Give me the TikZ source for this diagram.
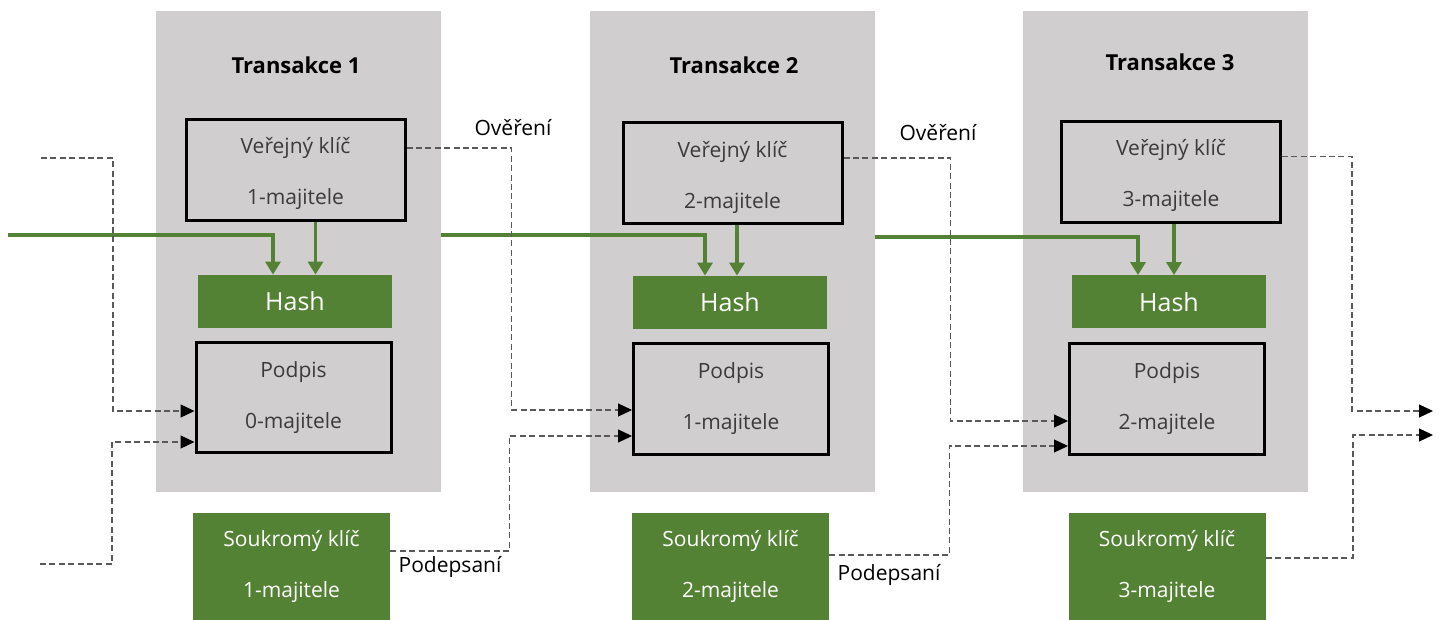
\documentclass[tikz,border=0pt]{standalone}
\usepackage{fontspec}
\setmainfont{Open Sans}
\usetikzlibrary{arrows.meta}
\definecolor{panelgray}{HTML}{D0CECE}
\definecolor{keygreen}{HTML}{548235}
\definecolor{dashgray}{HTML}{595959}
\definecolor{textgray}{HTML}{3B3B3B}
\newcommand{\keystrut}{\rule{0pt}{12pt}}

\begin{document}
\begin{tikzpicture}[x=0.5pt, y=-0.5pt,
    panelnode/.style={rectangle, fill=panelgray, minimum width=142.5pt, minimum height=240.5pt, inner sep=0pt},
    titlenode/.style={font=\fontsize{11}{13}\selectfont\bfseries},
    signode/.style={rectangle, draw=black, line width=1.5pt, minimum width=97.5pt, minimum height=55pt, align=center, text=textgray, font=\fontsize{10.5}{25.5}\selectfont, inner sep=0pt},
    keynode/.style={signode, minimum width=109.5pt, minimum height=50.5pt},
    hashnode/.style={rectangle, fill=keygreen, minimum width=97pt, minimum height=26.5pt, text=white, font=\fontsize{12.5}{14}\selectfont},
    privnode/.style={rectangle, fill=keygreen, minimum width=98.5pt, minimum height=53.5pt, align=center, text=white, font=\fontsize{10.5}{25.5}\selectfont},
    dashline/.style={dashgray, line width=0.6pt, dash pattern=on 3pt off 1.7pt, -{Triangle[length=7pt, width=6.5pt, color=black]}},
    greenline/.style={keygreen, line width=1.6pt, -{Triangle[length=6.5pt, width=7.5pt]}},
    labelnode/.style={font=\fontsize{10.5}{12}\selectfont}
    ]
    \useasboundingbox (0,0) rectangle (1441,620);

    \node [panelnode] (p1) at (298.5,251.5) {};
    \node [panelnode] (p2) at (732,251.5) {};
    \node [panelnode] (p3) at (1165,251.5) {};

    \node [titlenode] (t1) at (296,65) {Transakce 1};
    \node [titlenode] (t2) at (734,65) {Transakce 2};
    \node [titlenode] (t3) at (1170,62) {Transakce 3};

    \node [keynode] (k1) at (295.5,170) {\keystrut Veřejný klíč\\1-majitele};
    \node [keynode] (k2) at (732.5,173.5) {\keystrut Veřejný klíč\\2-majitele};
    \node [keynode] (k3) at (1171,172) {\keystrut Veřejný klíč\\3-majitele};

    \node [hashnode] (h1) at (295,301.5) {Hash};
    \node [hashnode] (h2) at (730,302.5) {Hash};
    \node [hashnode] (h3) at (1169,302) {Hash};

    \node [signode] (s1) at (293.5,397.5) {Podpis\\0-majitele};
    \node [signode] (s2) at (731,399) {Podpis\\1-majitele};
    \node [signode] (s3) at (1167,399) {Podpis\\2-majitele};

    \node [privnode] (pk1) at (291.5,566.5) {Soukromý klíč\\1-majitele};
    \node [privnode] (pk2) at (730.5,566.5) {Soukromý klíč\\2-majitele};
    \node [privnode] (pk3) at (1167,566.5) {Soukromý klíč\\3-majitele};

    \node [labelnode] (v1) at (513,128) {Ověření};
    \node [labelnode] (v2) at (938,133) {Ověření};
    \node [labelnode] (q1) at (450,567) {Podepsaní};
    \node [labelnode] (q2) at (889,575) {Podepsaní};

    \coordinate (in1) at (8,235);
    \coordinate (in2) at (41,158);
    \coordinate (in3) at (40,564);
    \coordinate (out1) at (1433,411);
    \coordinate (out2) at (1433,435);

    \draw [greenline] (in1) -| ([xshift=-11pt]h1.north);
    \draw [greenline] ([xshift=10pt]k1.south) -- ([xshift=10pt]k1.south |- h1.north);
    \draw [greenline] ([yshift=8.25pt]p1.east) -| ([xshift=-12.5pt]h2.north);
    \draw [greenline] ([xshift=2.25pt]k2.south) -- ([xshift=2.25pt]k2.south |- h2.north);
    \draw [greenline] ([yshift=7.25pt]p2.east) -| ([xshift=-15.5pt]h3.north);
    \draw [greenline] ([xshift=1.5pt]k3.south) -- ([xshift=1.5pt]k3.south |- h3.north);

    \draw [dashline] (in2) -- ++(72,0) |- ([yshift=-6.75pt]s1.west);
    \draw [dashline] (in3) -- ++(72,0) |- ([yshift=-22.25pt]s1.west);
    \draw [dashline] ([yshift=11pt]k1.east) -- ++(105,0) |- ([yshift=-5.5pt]s2.west);
    \draw [dashline] ([yshift=7.75pt]pk1.east) -- ++(119,0) |- ([yshift=-18.5pt]s2.west);
    \draw [dashline] ([yshift=7.75pt]k2.east) -- ++(107,0) |- ([yshift=-11pt]s3.west);
    \draw [dashline] ([yshift=5.75pt]pk2.east) -- ++(120,0) |- ([yshift=-23.5pt]s3.west);
    \draw [dashline] ([yshift=7.75pt]k3.east) -- ++(70,0) |- (out1);
    \draw [dashline] ([yshift=4.25pt]pk3.east) -- ++(87,0) |- (out2);
\end{tikzpicture}
\end{document}
